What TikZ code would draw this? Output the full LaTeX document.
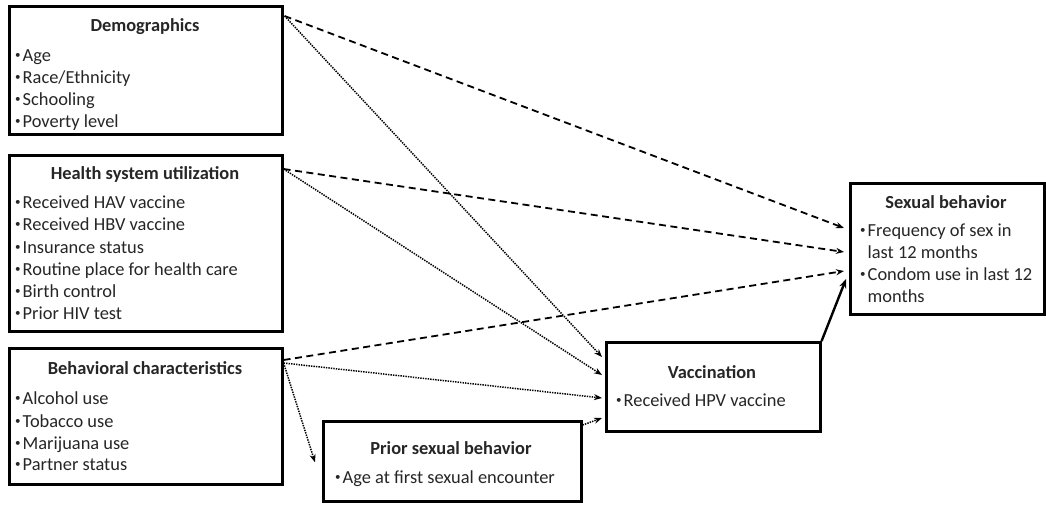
\documentclass[tikz,border=0pt]{standalone}
\usepackage{fontspec}
\setmainfont{Carlito}
\usetikzlibrary{arrows.meta,calc}
\newcommand\bul{\raisebox{0.28ex}{\scalebox{0.6}{•}}\hspace{2pt}}
\begin{document}
\begin{tikzpicture}[x=1pt,y=-1pt,
  box/.style={draw=black, line width=2.6pt, fill=white, anchor=north west, inner sep=0pt},
  ttl/.style={anchor=base, font=\fontsize{18.4}{22}\selectfont\bfseries, text=black!85, inner sep=0pt},
  itm/.style={anchor=base west, font=\fontsize{18.4}{22}\selectfont, text=black!85, inner sep=0pt},
  dsh/.style={line width=1.8pt, dash pattern=on 7pt off 4.5pt, -{Stealth[length=8pt,width=6pt]}},
  dot/.style={line width=1.5pt, dash pattern=on 1.4pt off 1.1pt, -{Stealth[length=8pt,width=6pt]}},
  sld/.style={line width=2.4pt, -{Stealth[length=9pt,width=7pt]}}]
\useasboundingbox (0,0) rectangle (1046,504);
\fill[white] (0,0) rectangle (1046,504);

% boxes
\node[box, minimum width=273pt, minimum height=128pt] (demo) at (8,5) {};
\node[box, minimum width=273pt, minimum height=176pt] (hlth) at (8,154) {};
\node[box, minimum width=273pt, minimum height=136pt] (behv) at (8,347) {};
\node[box, minimum width=258pt, minimum height=80pt] (prior) at (322,420) {};
\node[box, minimum width=214pt, minimum height=89pt] (vacc) at (605,341) {};
\node[box, minimum width=194pt, minimum height=131pt] (sex) at (849,182) {};

% demographics
\node[ttl] (demoT) at (145,31) {Demographics};
\node[itm] (d1) at (15,61) {\bul Age};
\node[itm] (d2) at (15,83) {\bul Race/Ethnicity};
\node[itm] (d3) at (15,105) {\bul Schooling};
\node[itm] (d4) at (15,127) {\bul Poverty level};

% health
\node[ttl] (hlthT) at (145,179) {Health system utilization};
\node[itm] (h1) at (15,208) {\bul Received HAV vaccine};
\node[itm] (h2) at (15,230) {\bul Received HBV vaccine};
\node[itm] (h3) at (15,253) {\bul Insurance status};
\node[itm] (h4) at (15,275) {\bul Routine place for health care};
\node[itm] (h5) at (15,297) {\bul Birth control};
\node[itm] (h6) at (15,319) {\bul Prior HIV test};

% behavioral
\node[ttl] (behvT) at (145,374) {Behavioral characteristics};
\node[itm] (b1) at (15,404) {\bul Alcohol use};
\node[itm] (b2) at (15,427) {\bul Tobacco use};
\node[itm] (b3) at (15,449) {\bul Marijuana use};
\node[itm] (b4) at (15,470) {\bul Partner status};

% prior
\node[ttl] (priorT) at (451,454) {Prior sexual behavior};
\node[itm] (p1) at (335,483) {\bul Age at first sexual encounter};

% vaccination
\node[ttl] (vaccT) at (712,378) {Vaccination};
\node[itm] (v1) at (616,406) {\bul Received HPV vaccine};

% sexual behavior
\node[ttl] (sexT) at (946,208) {Sexual behavior};
\node[itm] (s1) at (860,236) {\bul Frequency of sex in};
\node[itm] (s2) at (860,258) {\phantom{\bul}last 12 months};
\node[itm] (s3) at (860,280) {\bul Condom use in last 12};
\node[itm] (s4) at (860,302) {\phantom{\bul}months};

% connector ends
\coordinate (dOut) at ($(demo.north east)+(1,11)$);
\coordinate (hOut) at ($(hlth.north east)+(0,15)$);
\coordinate (bOut) at ($(behv.north east)+(0,13)$);
\coordinate (bOut2) at ($(behv.north east)+(0,16)$);
\coordinate (pOut) at ($(prior.north east)+(0,5)$);
\coordinate (vOut) at (vacc.north east);
\coordinate (sIn1) at ($(sex.north west)+(-5,46)$);
\coordinate (sIn2) at ($(sex.north west)+(-5,70)$);
\coordinate (sIn3) at ($(sex.north west)+(-5,89)$);
\coordinate (sIn4) at ($(sex.north west)+(-3,97)$);
\coordinate (vIn1) at ($(vacc.north west)+(-3,16)$);
\coordinate (vIn2) at ($(vacc.north west)+(-3,34)$);
\coordinate (vIn3) at ($(vacc.north west)+(-3,57)$);
\coordinate (vIn4) at ($(vacc.north west)+(-3,77)$);
\coordinate (pIn) at ($(prior.west)+(-7,1)$);

% connectors
\draw[dsh] (dOut) -- (sIn1);
\draw[dot] (dOut) -- (vIn1);
\draw[dsh] (hOut) -- (sIn2);
\draw[dot] (hOut) -- (vIn2);
\draw[dsh] (bOut) -- (sIn3);
\draw[dot] (bOut2) -- (vIn3);
\draw[dot] (bOut2) -- (pIn);
\draw[dot] (pOut) -- (vIn4);
\draw[sld] (vOut) -- (sIn4);
\end{tikzpicture}
\end{document}
